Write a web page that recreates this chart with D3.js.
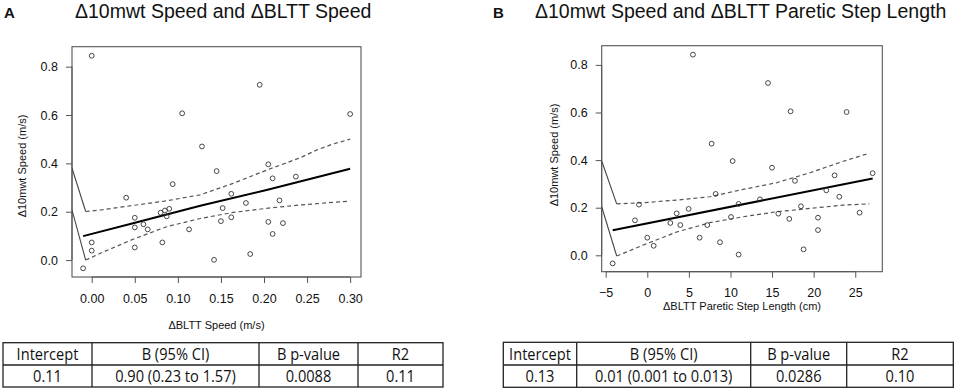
<!DOCTYPE html>
<html><head><meta charset="utf-8">
<script src="https://cdn.jsdelivr.net/npm/d3@7/dist/d3.min.js"></script>
<style>
body{margin:0;background:#fff;}
svg{display:block;font-family:"Liberation Sans",Arial,sans-serif;}
</style></head>
<body><svg id="c" width="957" height="391"></svg>
<script>
// ---------- Data ----------
const titles = ["\u039410mwt Speed and \u0394BLTT Speed", "\u039410mwt Speed and \u0394BLTT Paretic Step Length"];
const panelLetters = ["A", "B"];
const yLabel = "\u039410mwt Speed (m/s)";
const xLabels = ["\u0394BLTT Speed (m/s)", "\u0394BLTT Paretic Step Length (cm)"];
const yTicks = [0.0, 0.2, 0.4, 0.6, 0.8];
const xTicksA = [0.00, 0.05, 0.10, 0.15, 0.20, 0.25, 0.30];
const xTicksB = [-5, 0, 5, 10, 15, 20, 25];

const aX = [0.000,-0.010,0.000,0.000,0.040,0.050,0.050,0.050,0.060,0.065,0.080,0.085,0.090,0.087,0.082,0.094,0.105,0.113,0.128,0.145,0.142,0.152,0.150,0.162,0.162,0.179,0.184,0.195,0.205,0.205,0.210,0.210,0.218,0.222,0.237,0.300];
const aY = [0.845,-0.034,0.073,0.039,0.258,0.175,0.135,0.052,0.148,0.127,0.196,0.205,0.212,0.181,0.073,0.314,0.607,0.127,0.470,0.368,0.001,0.215,0.161,0.274,0.177,0.236,0.025,0.725,0.396,0.158,0.338,0.108,0.247,0.153,0.345,0.604];

const bX = [-4.16,-1.48,-1.00,0.00,0.77,2.77,3.53,3.97,4.97,5.49,6.29,7.21,7.73,8.22,8.74,10.06,10.26,10.98,10.98,13.55,14.51,14.99,15.75,17.07,17.23,17.75,18.47,18.79,20.52,20.52,21.52,22.52,23.08,23.96,25.52,27.09];
const bY = [-0.034,0.147,0.213,0.074,0.040,0.136,0.176,0.127,0.195,0.843,0.074,0.127,0.469,0.258,0.055,0.161,0.396,0.216,0.003,0.235,0.724,0.368,0.175,0.153,0.605,0.313,0.206,0.025,0.158,0.106,0.273,0.336,0.246,0.602,0.179,0.345];

// fitted line and confidence bands
const aFitX = [-0.010, 0.048, 0.126, 0.203, 0.300];
const aFitY = [0.099, 0.152, 0.225, 0.290, 0.378];
const aUpX = [-0.007, 0.010, 0.048, 0.087, 0.126, 0.164, 0.203, 0.242, 0.261, 0.280, 0.300];
const aUpY = [0.201, 0.207, 0.226, 0.245, 0.270, 0.317, 0.372, 0.423, 0.455, 0.480, 0.500];
const aLoX = [-0.007, 0.010, 0.048, 0.087, 0.126, 0.164, 0.203, 0.242, 0.300];
const aLoY = [0.000, 0.028, 0.086, 0.138, 0.172, 0.197, 0.214, 0.228, 0.244];
const aStubX = [[-0.0229, -0.007], [-0.0229, -0.007]];
const aStubY = [[0.380, 0.201], [0.207, 0.000]];

const bFitX = [-4.16, 27.09];
const bFitY = [0.105, 0.323];
const bUpX = [-3.68, -0.48, 3.53, 7.54, 11.54, 15.55, 19.56, 23.56, 26.70];
const bUpY = [0.216, 0.221, 0.232, 0.246, 0.277, 0.305, 0.347, 0.395, 0.429];
const bLoX = [-3.68, -0.48, 3.53, 7.54, 11.54, 15.55, 19.56, 23.56, 26.70];
const bLoY = [-0.003, 0.043, 0.098, 0.137, 0.162, 0.183, 0.197, 0.211, 0.216];
const bStubX = [[-5.48, -3.68], [-5.48, -3.68]];
const bStubY = [[0.396, 0.216], [0.204, -0.003]];

const tableHeaders = ["Intercept", "B (95% CI)", "B p-value", "R2"];
const tableRowA = ["0.11", "0.90 (0.23 to 1.57)", "0.0088", "0.11"];
const tableRowB = ["0.13", "0.01 (0.001 to 0.013)", "0.0286", "0.10"];

// ---------- Drawing ----------
const svg = d3.select("#c");

const panels = [
  {letter: panelLetters[0], title: titles[0], xLabel: xLabels[0], letterX: 4, titleX: 75,
   box: {l: 72, r: 361, t: 46.7, b: 277}, xDom: [-0.0229, 0.3126], yDom: [-0.070, 0.8825],
   xTicks: xTicksA, xFmt: d3.format(".2f"), xTickY: 302.5, xLabelY: 329, yLabelX: 26, yLabelY: 166,
   px: aX, py: aY, fitX: aFitX, fitY: aFitY, upX: aUpX, upY: aUpY, loX: aLoX, loY: aLoY, stubX: aStubX, stubY: aStubY,
   table: {l: 3, cols: [92, 259, 358], r: 443, t: 342.7, m: 365, b: 387}, row: tableRowA},
  {letter: panelLetters[1], title: titles[1], xLabel: xLabels[1], letterX: 493, titleX: 535,
   box: {l: 601.7, r: 882.3, t: 45.7, b: 271.7}, xDom: [-5.48, 28.25], yDom: [-0.0689, 0.8807],
   xTicks: xTicksB, xFmt: d3.format("d"), xTickY: 296.5, xLabelY: 310, yLabelX: 558, yLabelY: 155,
   px: bX, py: bY, fitX: bFitX, fitY: bFitY, upX: bUpX, upY: bUpY, loX: bLoX, loY: bLoY, stubX: bStubX, stubY: bStubY,
   table: {l: 503.3, cols: [576.7, 750.7, 846.7], r: 953.3, t: 342.3, m: 365, b: 387.3}, row: tableRowB}
];

panels.forEach((p, pi) => {
  const g = svg.append("g");
  const x = d3.scaleLinear().domain(p.xDom).range([p.box.l, p.box.r]);
  const y = d3.scaleLinear().domain(p.yDom).range([p.box.b, p.box.t]);

  // letter & title
  g.append("text").attr("x", p.letterX).attr("y", 17.5).attr("font-size", 15).attr("font-weight", "bold")
    .attr("fill", "#111").text(p.letter);
  g.append("text").attr("x", p.titleX).attr("y", 18).attr("font-size", 19.5).attr("fill", "#111").text(p.title);

  // clip
  const clipId = "clip" + pi;
  svg.append("clipPath").attr("id", clipId).append("rect")
    .attr("x", p.box.l).attr("y", p.box.t).attr("width", p.box.r - p.box.l).attr("height", p.box.b - p.box.t);

  // box
  g.append("rect").attr("x", p.box.l).attr("y", p.box.t).attr("width", p.box.r - p.box.l)
    .attr("height", p.box.b - p.box.t).attr("fill", "none").attr("stroke", "#555").attr("stroke-width", 1.1);

  // x axis
  const xa = g.append("g").attr("transform", `translate(0,${p.box.b})`)
    .call(d3.axisBottom(x).tickValues(p.xTicks).tickSize(6).tickFormat(p.xFmt));
  xa.select(".domain").attr("stroke", "#555").attr("d", `M${x(p.xTicks[0])},0H${x(p.xTicks[p.xTicks.length-1])}`);
  xa.selectAll(".tick line").attr("stroke", "#555");
  xa.selectAll(".tick text").attr("y", null).attr("dy", null)
    .attr("transform", `translate(0,${p.xTickY - p.box.b})`)
    .attr("font-size", 12.5).attr("font-family", "Liberation Sans, Arial, sans-serif").attr("fill", "#111");

  // y axis
  const ya = g.append("g").attr("transform", `translate(${p.box.l},0)`)
    .call(d3.axisLeft(y).tickValues(yTicks).tickSize(6).tickFormat(d3.format(".1f")));
  ya.select(".domain").attr("stroke", "#555").attr("d", `M0,${y(0)}V${y(0.8)}`);
  ya.selectAll(".tick line").attr("stroke", "#555");
  ya.selectAll(".tick text").attr("x", -14).attr("font-size", 12.5)
    .attr("font-family", "Liberation Sans, Arial, sans-serif").attr("fill", "#111");

  // axis labels
  g.append("text").attr("x", (p.box.l + p.box.r) / 2).attr("y", p.xLabelY).attr("text-anchor", "middle")
    .attr("font-size", 11).attr("fill", "#111").text(p.xLabel);
  g.append("text").attr("transform", `translate(${p.yLabelX},${p.yLabelY}) rotate(-90)`).attr("text-anchor", "middle")
    .attr("font-size", 11).attr("fill", "#111").text(yLabel);

  const plot = g.append("g").attr("clip-path", `url(#${clipId})`);
  const line = d3.line().x(d => x(d[0])).y(d => y(d[1]));

  // stub lines
  p.stubX.forEach((sx, i) => {
    plot.append("path").attr("d", line(sx.map((v, j) => [v, p.stubY[i][j]])))
      .attr("fill", "none").attr("stroke", "#444").attr("stroke-width", 1.1);
  });
  // CI bands
  [[p.upX, p.upY], [p.loX, p.loY]].forEach(([cx, cy]) => {
    plot.append("path").attr("d", line(cx.map((v, j) => [v, cy[j]])))
      .attr("fill", "none").attr("stroke", "#555").attr("stroke-width", 1.2).attr("stroke-dasharray", "4,3");
  });
  // fit
  plot.append("path").attr("d", line(p.fitX.map((v, j) => [v, p.fitY[j]])))
    .attr("fill", "none").attr("stroke", "#000").attr("stroke-width", 2);

  // points
  plot.selectAll("circle").data(p.px.map((v, i) => [v, p.py[i]])).join("circle")
    .attr("cx", d => x(d[0])).attr("cy", d => y(d[1])).attr("r", 2.4)
    .attr("fill", "none").attr("stroke", "#333").attr("stroke-width", 0.9);

  // table
  const t = p.table;
  const tg = g.append("g");
  tg.append("rect").attr("x", t.l).attr("y", t.t).attr("width", t.r - t.l).attr("height", t.b - t.t)
    .attr("fill", "none").attr("stroke", "#222").attr("stroke-width", 1.3);
  tg.append("line").attr("x1", t.l).attr("x2", t.r).attr("y1", t.m).attr("y2", t.m)
    .attr("stroke", "#222").attr("stroke-width", 1.3);
  t.cols.forEach(cx => tg.append("line").attr("x1", cx).attr("x2", cx).attr("y1", t.t).attr("y2", t.b)
    .attr("stroke", "#222").attr("stroke-width", 1.3));
  const edges = [t.l, ...t.cols, t.r];
  const rows = [tableHeaders, p.row];
  const rowMid = [(t.t + t.m) / 2, (t.m + t.b) / 2];
  rows.forEach((r, ri) => {
    r.forEach((txt, ci) => {
      const cx = (edges[ci] + edges[ci + 1]) / 2;
      tg.append("text").attr("transform", `translate(${cx},${rowMid[ri] + 6}) scale(0.86,1)`)
        .attr("text-anchor", "middle").attr("font-family", "Open Sans, sans-serif").attr("font-size", 17)
        .attr("fill", "#111").text(txt);
    });
  });
});
</script></body></html>
